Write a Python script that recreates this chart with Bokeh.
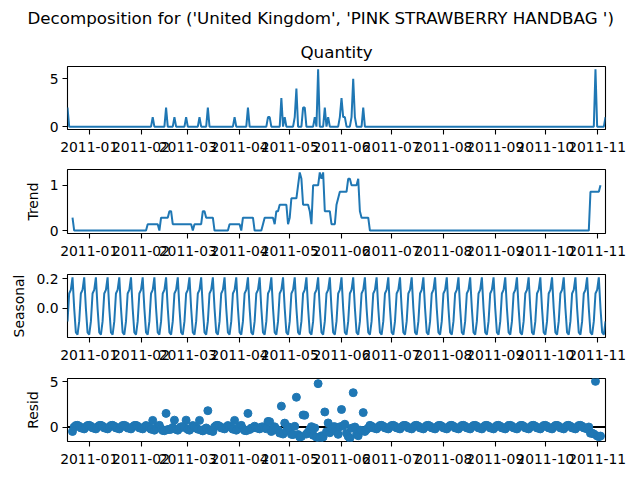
import numpy as np
import pandas as pd
from bokeh.embed import file_html
from bokeh.resources import INLINE
from bokeh.layouts import column
from bokeh.models import (ColumnDataSource, Range1d, FixedTicker, DatetimeTickFormatter,
                          PrintfTickFormatter, Span, Title)
from bokeh.plotting import figure

suptitle = "Decomposition for ('United Kingdom', 'PINK STRAWBERRY HANDBAG ')"
start_date = "2010-12-19"
end_date = "2011-11-06"

# days with sales, every other day in the range sold 0
sale_dates = ["2010-12-19", "2011-02-08", "2011-02-16", "2011-02-21", "2011-02-28",
              "2011-03-08", "2011-03-13", "2011-03-29", "2011-04-06", "2011-04-18",
              "2011-04-19", "2011-04-26", "2011-04-28", "2011-05-04", "2011-05-05",
              "2011-05-09", "2011-05-10", "2011-05-16", "2011-05-18", "2011-05-22",
              "2011-05-24", "2011-05-31", "2011-06-01", "2011-06-02", "2011-06-03",
              "2011-06-07", "2011-06-08", "2011-06-09", "2011-06-14", "2011-10-31",
              "2011-11-06"]
sale_qty = [2, 1, 2, 1, 1,
            1, 2, 1, 2, 1,
            1, 3, 1, 1, 4,
            2, 2, 1, 6, 2,
            1, 1, 3, 1, 1,
            1, 5, 1, 2, 6,
            1]

# weekly seasonal pattern, first value is the first day of the series
seasonal_week = [-0.09, 0.10, 0.125, 0.21, 0.0, -0.165, -0.18]

month_ticks = ["2011-01-01", "2011-02-01", "2011-03-01", "2011-04-01", "2011-05-01",
               "2011-06-01", "2011-07-01", "2011-08-01", "2011-09-01", "2011-10-01",
               "2011-11-01"]

dates = pd.date_range(start_date, end_date, freq="D")
observed = pd.Series(0.0, index=dates)
observed[pd.to_datetime(sale_dates)] = sale_qty
trend = observed.rolling(7, center=True).mean()
seasonal = np.resize(np.array(seasonal_week), len(dates))
resid = observed.values - trend.values - seasonal

source = ColumnDataSource(dict(date=dates, observed=observed.values, trend=trend.values,
                               seasonal=seasonal, resid=resid))

BLUE = "#1f77b4"
FONT = "DejaVu Sans"
TICK_SIZE = "13.9px"
TITLE_SIZE = "16.7px"

x_range = Range1d(dates[0], dates[-1])
tick_ms = [pd.Timestamp(d).value // 10**6 for d in month_ticks]
fmt = "%Y-%m"


def padded(values):
    lo, hi = np.nanmin(values), np.nanmax(values)
    pad = (hi - lo) * 0.05
    return Range1d(lo - pad, hi + pad)


def panel(values, yticks, top, frame_h, ylabel=None, yfmt=None):
    p = figure(x_axis_type="datetime", title=None, x_range=x_range, y_range=padded(values),
               frame_width=538, frame_height=frame_h, min_border_left=67, min_border_right=35,
               min_border_top=top, min_border_bottom=31,
               output_backend="svg", toolbar_location=None)
    p.xgrid.visible = False
    p.ygrid.visible = False
    p.outline_line_color = "black"
    p.outline_line_width = 1.1
    p.outline_line_alpha = 1.0
    p.xaxis.ticker = FixedTicker(ticks=tick_ms)
    p.xaxis.formatter = DatetimeTickFormatter(days=fmt, months=fmt, years=fmt, hours=fmt)
    p.yaxis.ticker = FixedTicker(ticks=yticks)
    if yfmt:
        p.yaxis.formatter = PrintfTickFormatter(format=yfmt)
    for ax in p.axis:
        ax.axis_line_color = None
        ax.major_tick_in = 0
        ax.major_tick_out = 5
        ax.major_tick_line_color = "black"
        ax.major_tick_line_width = 1.1
        ax.minor_tick_line_color = None
        ax.major_label_text_color = "black"
        ax.major_label_text_font = FONT
        ax.major_label_text_font_size = TICK_SIZE
        ax.major_label_standoff = 4
    p.xaxis.major_label_standoff = 7
    if ylabel:
        p.yaxis.axis_label = ylabel
        p.yaxis.axis_label_text_font = FONT
        p.yaxis.axis_label_text_font_size = TICK_SIZE
        p.yaxis.axis_label_text_font_style = "normal"
        p.yaxis.axis_label_text_color = "black"
        p.yaxis.axis_label_standoff = 6
    return p


# thin strip holding the figure-wide title
head = figure(title=None, x_axis_location=None, y_axis_location=None,
              frame_width=538, frame_height=2, min_border_left=67, min_border_right=35,
              min_border_top=0, min_border_bottom=0,
              output_backend="svg", toolbar_location=None)
head.grid.visible = False
head.outline_line_color = None
head.add_layout(Title(text=suptitle, align="left", offset=-40, text_font=FONT,
                      text_font_size=TITLE_SIZE, text_font_style="normal",
                      text_color="black", standoff=11), "above")

p1 = panel(observed.values, [0, 5], 31, 63)
p1.add_layout(Title(text="Quantity", align="center", text_font=FONT, text_font_size=TITLE_SIZE,
                    text_font_style="normal", text_color="black", standoff=9), "above")
p1.line("date", "observed", source=source, color=BLUE, line_width=2)

p2 = panel(trend.values, [0, 1], 9, 64, "Trend")
p2.line("date", "trend", source=source, color=BLUE, line_width=2)

p3 = panel(seasonal, [0.0, 0.2], 10, 63, "Seasonal", "%.1f")
p3.line("date", "seasonal", source=source, color=BLUE, line_width=2)

p4 = panel(resid, [0, 5], 10, 63, "Resid")
p4.add_layout(Span(location=0, dimension="width", line_color="black", line_width=2,
                   level="underlay"))
p4.scatter("date", "resid", source=source, size=8, color=BLUE)

layout = column(head, p1, p2, p3, p4, spacing=0)
open("out.html", "w").write(file_html(layout, INLINE))
